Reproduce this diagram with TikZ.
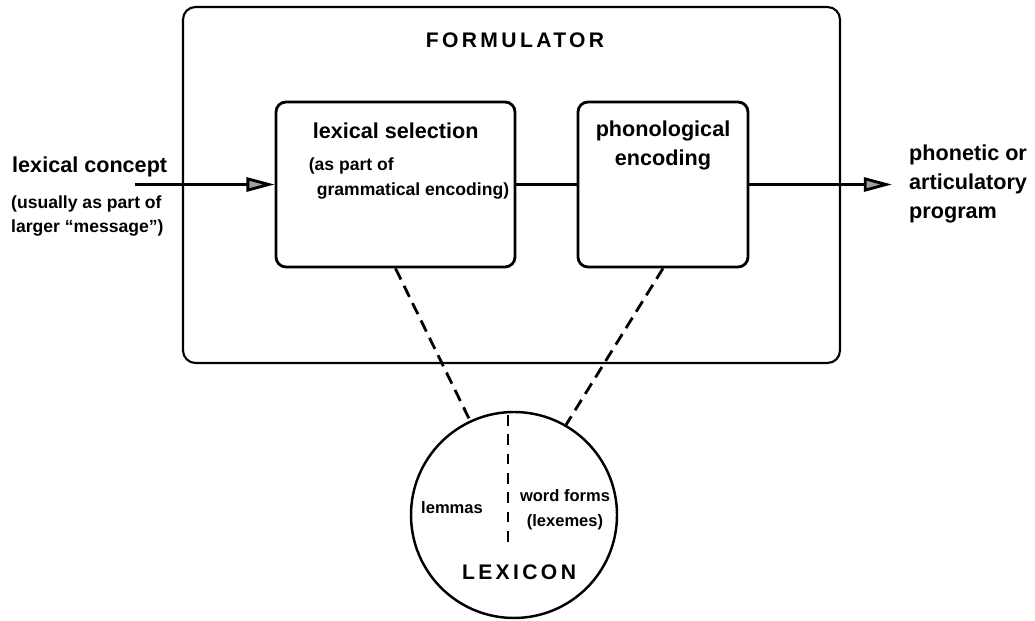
\documentclass[tikz,border=0pt]{standalone}
\usepackage{fontspec}
\setmainfont{Liberation Sans}
\usetikzlibrary{arrows.meta,positioning}

\newcommand{\bigtxt}{\fontsize{12.3}{16.5}\selectfont}
\newcommand{\smalltxt}{\fontsize{10}{14}\selectfont}
\newcommand{\tinytxt}{\fontsize{9.4}{14}\selectfont}
\newcommand{\spaced}{\fontsize{12}{14}\selectfont\addfontfeature{LetterSpace=16}}

\begin{document}
\begin{tikzpicture}[font=\bfseries,
  stage/.style={draw, line width=1.6pt, rounded corners=0.2cm, minimum height=3.3cm, inner sep=0pt},
  flow/.style={line width=1.6pt, -{Triangle[length=16pt,width=8pt,fill=gray!75]}},
  link/.style={line width=1.6pt, dash pattern=on 7pt off 4pt}]
\useasboundingbox (0,0) rectangle (20.7,12.42);

% formulator and its two stages
\node[draw, line width=1.2pt, rounded corners=0.25cm, minimum width=13.14cm, minimum height=7.12cm] (form) at (10.23,8.72) {};
\node (formlbl) at (10.3,11.62) {\spaced FORMULATOR};
\node[stage, minimum width=4.78cm] (lex) at (7.91,8.73) {};
\node[stage, minimum width=3.4cm] (phon) at (13.26,8.73) {};
\node[anchor=west, font=\bfseries\bigtxt] (lexsel) at ([xshift=0.64cm,yshift=-0.6cm]lex.north west) {lexical selection};
\node[anchor=west, align=left, font=\bfseries\smalltxt] (lexpart) at ([xshift=0.56cm,yshift=-1.56cm]lex.north west) {(as part of\\\hspace{0.16cm}grammatical encoding)};
\node[align=center, font=\bfseries\bigtxt] (phonlbl) at ([yshift=-0.9cm]phon.north) {phonological\\encoding};

% input and output
\node[anchor=west, font=\bfseries\bigtxt] (concept) at (0.12,9.08) {lexical concept};
\node[anchor=west, align=left, font=\bfseries\smalltxt] (concnote) at (0.1,8.1) {(usually as part of\\larger “message”)};
\coordinate (conceptin) at (2.7,8.73);
\coordinate (progout) at (17.84,8.73);
\node[anchor=west, align=left, font=\bfseries\bigtxt] (prog) at (18.06,8.74) {phonetic or\\articulatory\\program};
\draw[flow] (conceptin) -- (lex.west);
\draw[line width=1.6pt] (lex.east) -- (phon.west);
\draw[flow] (phon.east) -- (progout);

% lexicon
\node[circle, draw, line width=1.4pt, minimum size=4.12cm, inner sep=0pt] (lexicon) at (10.28,2.12) {};
\draw[link] (lex.south) -- (lexicon.115);
\draw[link] (phon.south) -- (lexicon.60);
\coordinate (divtop) at (10.16,4.12);
\coordinate (divbot) at (10.16,1.58);
\draw[line width=1.2pt, dash pattern=on 6pt off 5pt] (divtop) -- (divbot);
\node[font=\bfseries\tinytxt] (lemmas) at (9.04,2.26) {lemmas};
\node[align=center, font=\bfseries\tinytxt] (forms) at (11.3,2.22) {word forms\\(lexemes)};
\node (lexlbl) at (10.38,0.98) {\spaced LEXICON};
\end{tikzpicture}
\end{document}
